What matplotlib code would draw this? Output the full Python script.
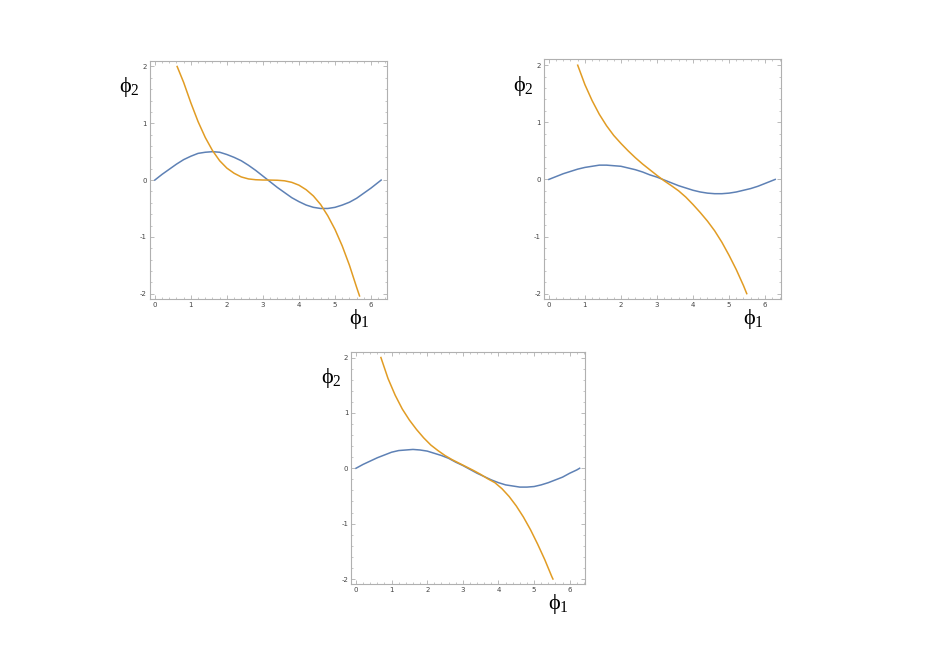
import matplotlib.pyplot as plt
from matplotlib.ticker import MultipleLocator

plt.rcParams['mathtext.fontset'] = 'custom'
plt.rcParams['mathtext.rm'] = 'Liberation Serif'
plt.rcParams['mathtext.it'] = 'Liberation Serif'
plt.rcParams['axes.unicode_minus'] = False

# blue curves
blue_x = [0, 0.2, 0.4, 0.6, 0.8, 1.0, 1.2, 1.4, 1.6, 1.8, 2.0, 2.2, 2.4, 2.6, 2.8, 3.0,
          3.2, 3.4, 3.6, 3.8, 4.0, 4.2, 4.4, 4.6, 4.8, 5.0, 5.2, 5.4, 5.6, 5.8, 6.0, 6.2, 6.28]
blue_1 = [0, 0.10, 0.19, 0.28, 0.36, 0.42, 0.47, 0.49, 0.50, 0.49, 0.45, 0.40, 0.34, 0.26, 0.17, 0.07,
          -0.03, -0.13, -0.22, -0.31, -0.38, -0.44, -0.48, -0.50, -0.50, -0.48, -0.44, -0.39, -0.32,
          -0.23, -0.14, -0.04, 0]
blue_2 = [0, 0.05, 0.10, 0.14, 0.18, 0.21, 0.23, 0.25, 0.25, 0.24, 0.23, 0.20, 0.17, 0.13, 0.08, 0.04,
          -0.01, -0.06, -0.11, -0.15, -0.19, -0.22, -0.24, -0.25, -0.25, -0.24, -0.22, -0.19, -0.16,
          -0.12, -0.07, -0.02, 0]
blue_3 = [0, 0.07, 0.13, 0.19, 0.24, 0.29, 0.32, 0.33, 0.34, 0.33, 0.31, 0.27, 0.23, 0.18, 0.11, 0.05,
          -0.02, -0.09, -0.15, -0.21, -0.26, -0.30, -0.32, -0.34, -0.34, -0.33, -0.30, -0.26, -0.21,
          -0.16, -0.09, -0.03, 0]

# orange curves
orange_x1 = [0.62, 0.8, 1.0, 1.2, 1.4, 1.6, 1.8, 2.0, 2.2, 2.4, 2.6, 2.8, 3.0, 3.2,
             3.4, 3.6, 3.8, 4.0, 4.2, 4.4, 4.6, 4.8, 5.0, 5.2, 5.4, 5.6, 5.68]
orange_1 = [2.0, 1.72, 1.36, 1.03, 0.75, 0.52, 0.34, 0.21, 0.12, 0.055, 0.02, 0.006, 0.001, 0.0,
            -0.003, -0.013, -0.04, -0.09, -0.17, -0.28, -0.43, -0.63, -0.87, -1.16, -1.50, -1.89, -2.04]

orange_x2 = [0.8, 1.0, 1.2, 1.4, 1.6, 1.8, 2.0, 2.2, 2.4, 2.6, 2.8, 3.0, 3.2,
             3.4, 3.6, 3.8, 4.0, 4.2, 4.4, 4.6, 4.8, 5.0, 5.2, 5.4, 5.49]
orange_2 = [2.0, 1.66, 1.38, 1.14, 0.94, 0.77, 0.63, 0.50, 0.38, 0.27, 0.17, 0.07, -0.025,
            -0.11, -0.20, -0.31, -0.44, -0.58, -0.73, -0.90, -1.10, -1.33, -1.58, -1.86, -2.0]

orange_x3 = [0.70, 0.9, 1.1, 1.3, 1.5, 1.7, 1.9, 2.1, 2.3, 2.5, 2.7, 2.9, 3.1,
             3.3, 3.5, 3.7, 3.9, 4.1, 4.3, 4.5, 4.7, 4.9, 5.1, 5.3, 5.5, 5.53]
orange_3 = [2.0, 1.62, 1.32, 1.07, 0.87, 0.70, 0.55, 0.42, 0.32, 0.23, 0.155, 0.09, 0.025,
            -0.04, -0.11, -0.19, -0.26, -0.37, -0.51, -0.68, -0.88, -1.11, -1.37, -1.65, -1.96, -2.0]

blue = '#5e81b5'
orange = '#e19c24'
frame = '#b0b0b0'

fig = plt.figure(figsize=(9.36, 6.61), dpi=100)

panels = [
    ([0.160, 0.548, 0.253, 0.360], blue_1, orange_x1, orange_1),
    ([0.581, 0.548, 0.253, 0.362], blue_2, orange_x2, orange_2),
    ([0.375, 0.1165, 0.250, 0.351], blue_3, orange_x3, orange_3),
]

for pos, by, ox, oy in panels:
    ax = fig.add_axes(pos)
    ax.plot(blue_x, by, color=blue, lw=1.1)
    ax.plot(ox, oy, color=orange, lw=1.1)
    ax.set_xlim(-0.14, 6.43)
    ax.set_ylim(-2.09, 2.1)
    ax.xaxis.set_major_locator(MultipleLocator(1))
    ax.xaxis.set_minor_locator(MultipleLocator(0.2))
    ax.yaxis.set_major_locator(MultipleLocator(1))
    ax.yaxis.set_minor_locator(MultipleLocator(0.2))
    ax.tick_params(which='both', direction='in', top=True, right=True,
                   color=frame, labelsize=5, labelcolor='#444444', pad=2)
    ax.tick_params(which='major', length=3, width=0.6)
    ax.tick_params(which='minor', length=1.5, width=0.5)
    for s in ax.spines.values():
        s.set_color(frame)
        s.set_linewidth(0.8)
    ax.text(-0.085, 0.89, r'$\mathrm{\phi}_{2}$', transform=ax.transAxes,
            fontsize=16, ha='center', va='center')
    ax.text(0.885, -0.085, r'$\mathrm{\phi}_{1}$', transform=ax.transAxes,
            fontsize=16, ha='center', va='center')

fig.savefig('out.png', dpi=100)
